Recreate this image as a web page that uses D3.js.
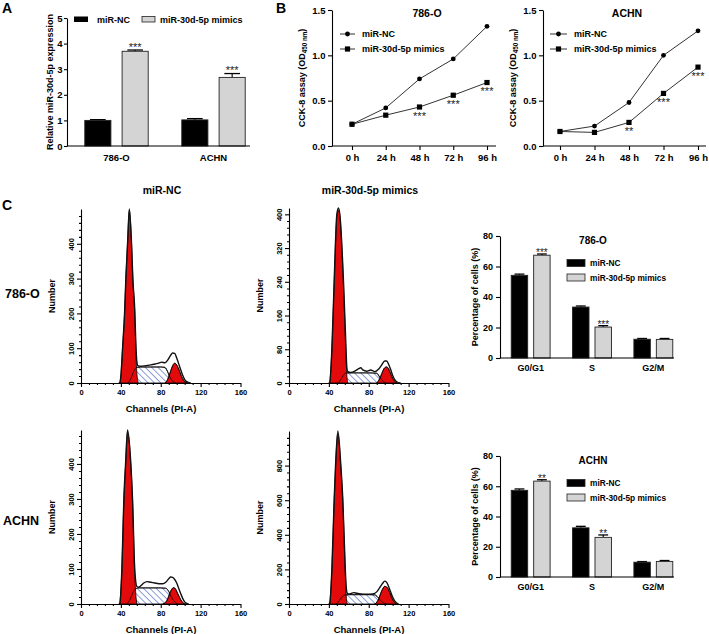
<!DOCTYPE html>
<html><head><meta charset="utf-8">
<script src="https://cdn.jsdelivr.net/npm/d3@7"></script>
<style>
body{margin:0;background:#fff}
svg{display:block}
text{font-family:"Liberation Sans",Arial,Helvetica,sans-serif}
</style>
</head><body>
<svg id="c" width="709" height="634"></svg>
<script>
// ---------------- DATA ----------------
const seriesNames = ["miR-NC", "miR-30d-5p mimics"];
// Panel A
const cellLines = ["786-O", "ACHN"];
const exprNC = [1.0, 1.02];
const exprNCErr = [0.03, 0.05];
const exprMimic = [3.7, 2.68];
const exprMimicErr = [0.05, 0.15];
const exprSig = ["***", "***"];
const exprTicks = [0, 1, 2, 3, 4, 5];
// Panel B
const hours = ["0 h", "24 h", "48 h", "72 h", "96 h"];
const cck786NC = [0.24, 0.42, 0.74, 0.96, 1.32];
const cck786Mimic = [0.24, 0.34, 0.43, 0.56, 0.70];
const cck786Sig = ["", "", "***", "***", "***"];
const cckAchnNC = [0.16, 0.22, 0.48, 1.00, 1.27];
const cckAchnMimic = [0.16, 0.15, 0.26, 0.58, 0.87];
const cckAchnSig = ["", "", "**", "***", "***"];
const cckTicks = [0, 0.5, 1.0, 1.5];
// Panel C bar charts
const phases = ["G0/G1", "S", "G2/M"];
const pct786NC = [54.2, 33.4, 12.3];
const pct786NCErr = [0.8, 0.7, 0.5];
const pct786Mimic = [67.4, 20.3, 12.2];
const pct786MimicErr = [0.8, 0.9, 0.6];
const pct786Sig = ["***", "***", ""];
const pctAchnNC = [57.3, 32.5, 9.8];
const pctAchnNCErr = [0.9, 1.0, 0.4];
const pctAchnMimic = [63.4, 26.2, 10.3];
const pctAchnMimicErr = [0.9, 1.6, 0.6];
const pctAchnSig = ["**", "**", ""];
const pctTicks = [0, 20, 40, 60, 80];
// Panel C histograms: [channel, count]
const channelTicks = [0, 40, 80, 120, 160];
const h786NC_total = [[38,0],[39,2],[40,20],[41.7,100],[43.7,200],[45,300],[46.7,400],[48.5,500],[50.7,400],[52,300],[54,205],[55,115],[56,62],[57,50],[60,48],[65,50],[70,52],[75,55],[78,57],[81,60],[84,58],[87,66],[90,80],[92,86],[94,85],[96,72],[98,55],[100,38],[102,22],[104,10],[106,4],[110,0]];
const h786NC_g1 = [[39,0],[40,20],[41.7,100],[43.7,200],[45,300],[46.7,400],[48.5,495],[50.7,400],[52,300],[54,195],[55,100],[56,30],[57.5,0]];
const h786NC_s = [[47,0],[50,12],[53,34],[56,45],[60,46],[70,46],[80,46],[84,45],[86,38],[89,18],[92,5],[95,0]];
const h786NC_g2 = [[84,0],[86,5],[88,18],[90,35],[92,50],[94,57],[96,52],[98,40],[100,25],[102,12],[104,4],[107,0]];
const h786Mi_total = [[40,0],[41,3],[43,80],[45.3,240],[48,400],[49.6,415],[51,400],[54.6,245],[57,95],[58,38],[59,27],[62,25],[66,28],[70,34],[72,36],[74,31],[78,28],[82,31],[86,27],[90,33],[93,43],[96,52],[98,52],[100,44],[102,32],[104,18],[106,8],[108,3],[112,0]];
const h786Mi_g1 = [[41,0],[43,78],[45.3,235],[48,395],[49.6,410],[51,395],[54.6,235],[57,75],[58,20],[59,0]];
const h786Mi_s = [[49,0],[52,8],[55,20],[58,24],[70,24],[80,24],[88,23],[91,14],[94,5],[97,0]];
const h786Mi_g2 = [[88,0],[90,6],[92,16],[94,28],[96,36],[98,38],[100,33],[102,22],[104,11],[106,4],[109,0]];
const hAchnNC_total = [[38,0],[39,3],[41,100],[43,300],[44.7,400],[46.7,497],[50,400],[51.7,300],[53.7,112],[55,62],[56,50],[58,48],[60,52],[63,60],[66,64],[70,62],[74,60],[78,58],[82,58],[85,62],[88,72],[90,77],[92,76],[94,70],[96,60],[98,45],[100,30],[102,16],[104,6],[106,2],[108,0]];
const hAchnNC_g1 = [[39,0],[41,98],[43,295],[44.7,395],[46.7,490],[50,395],[51.7,295],[53.7,100],[55,28],[56,0]];
const hAchnNC_s = [[46,0],[49,12],[52,32],[55,44],[58,46],[70,46],[80,46],[85,45],[88,36],[91,18],[94,6],[97,0]];
const hAchnNC_g2 = [[82,0],[85,5],[87,15],[89,30],[91,42],[93,47],[95,42],[97,30],[99,18],[101,8],[103,2],[105,0]];
const hAchnMi_total = [[40,0],[41,10],[43,200],[45.3,600],[46.7,800],[49,1000],[52,800],[54,600],[56.4,210],[57.5,92],[58.5,62],[60,58],[62,60],[65,66],[68,62],[72,58],[78,56],[84,58],[88,70],[91,95],[94,120],[96,132],[98,125],[100,100],[102,70],[104,40],[106,18],[108,6],[110,0]];
const hAchnMi_g1 = [[41,0],[43,195],[45.3,590],[46.7,790],[49,985],[52,790],[54,590],[56.4,195],[57.5,40],[58.5,0]];
const hAchnMi_s = [[47,0],[50,15],[53,40],[56,52],[60,54],[70,54],[80,54],[86,53],[89,40],[92,20],[95,6],[98,0]];
const hAchnMi_g2 = [[86,0],[88,10],[90,30],[92,62],[94,88],[96,102],[98,98],[100,80],[102,52],[104,25],[106,9],[108,0]];

// ---------------- HELPERS ----------------
const svg = d3.select("#c");
const GRAY = "#d4d4d4";
const RED = "#e20a0a";

const defs = svg.append("defs");
const pat = defs.append("pattern").attr("id","hatch").attr("patternUnits","userSpaceOnUse")
  .attr("width",4.5).attr("height",4.5).attr("patternTransform","rotate(-45)");
pat.append("rect").attr("width",4.5).attr("height",4.5).attr("fill","#fff");
pat.append("line").attr("x1",0).attr("y1",0).attr("x2",0).attr("y2",4.5).attr("stroke","#2e4fc0").attr("stroke-width",1.1);

function txt(g, x, y, s, size, o = {}) {
  const t = g.append("text").attr("x", x).attr("y", y).text(s)
    .attr("font-size", size).attr("font-weight", o.weight || "bold")
    .attr("text-anchor", o.anchor || "start").attr("fill", o.fill || "#000");
  if (o.rotate) t.attr("transform", `rotate(-90,${x},${y})`);
  return t;
}
function styleAxis(sel, size) {
  sel.attr("font-family", null).attr("font-size", null);
  sel.selectAll("path,line").attr("stroke", "#000").attr("stroke-width", 1.1);
  sel.selectAll("text").attr("font-size", size).attr("font-weight", "bold").attr("fill", "#000");
}

function groupedBars(g, cfg) {
  const x = d3.scaleBand().domain(cfg.cats).range(cfg.xRange);
  const xi = d3.scaleBand().domain(seriesNames).range([0, x.bandwidth()]).paddingInner(cfg.pi).paddingOuter(cfg.po);
  const y = d3.scaleLinear().domain(cfg.yDomain).range(cfg.yRange);
  const ya = g.append("g").attr("transform", `translate(${cfg.axisX},0)`)
    .call(d3.axisLeft(y).tickValues(cfg.ticks).tickSize(cfg.tickSize || 4).tickSizeOuter(0).tickPadding(cfg.tickPad || 3).tickFormat(d3.format("d")));
  styleAxis(ya, cfg.tickFont);
  const series = [
    { name: seriesNames[0], v: cfg.nc, e: cfg.ncErr, fill: "#000" },
    { name: seriesNames[1], v: cfg.mi, e: cfg.miErr, fill: GRAY, sig: cfg.sig }
  ];
  series.forEach(s => {
    cfg.cats.forEach((c, i) => {
      const bx = x(c) + xi(s.name), bw = xi.bandwidth(), cx = bx + bw / 2;
      const top = y(s.v[i] + s.e[i]);
      g.append("line").attr("x1", cx).attr("x2", cx).attr("y1", y(s.v[i])).attr("y2", top).attr("stroke", "#000").attr("stroke-width", 1.1);
      g.append("line").attr("x1", cx - bw * 0.3).attr("x2", cx + bw * 0.3).attr("y1", top).attr("y2", top).attr("stroke", "#000").attr("stroke-width", 1.3);
      g.append("rect").attr("x", bx).attr("y", y(s.v[i])).attr("width", bw).attr("height", y(0) - y(s.v[i]))
        .attr("fill", s.fill).attr("stroke", "#222").attr("stroke-width", 0.9);
      if (s.sig && s.sig[i]) txt(g, cx, top + cfg.starDy, s.sig[i], cfg.starFont, { anchor: "middle", weight: "normal", fill: "#222" });
    });
  });
  g.append("line").attr("x1", cfg.axisX).attr("x2", cfg.xAxisEnd).attr("y1", y(0)).attr("y2", y(0)).attr("stroke", "#000").attr("stroke-width", 1.2);
  cfg.cats.forEach(c => txt(g, x(c) + x.bandwidth() / 2, y(0) + cfg.catDy, c, cfg.catFont, { anchor: "middle" }));
  return { x, y };
}

function linePanel(g, cfg) {
  const x = d3.scalePoint().domain(hours).range(cfg.xRange);
  const y = d3.scaleLinear().domain([0, 1.5]).range([146, 10]);
  const ya = g.append("g").attr("transform", `translate(${cfg.axisX},0)`)
    .call(d3.axisLeft(y).tickValues(cckTicks).tickSize(4).tickSizeOuter(0).tickPadding(2.5).tickFormat(d3.format(".1f")));
  styleAxis(ya, 9.5);
  const xa = g.append("g").attr("transform", `translate(0,${y(0)})`)
    .call(d3.axisBottom(x).tickSize(4).tickSizeOuter(0).tickPadding(4));
  xa.select(".domain").remove();
  styleAxis(xa, 9.5);
  g.append("line").attr("x1", cfg.axisX).attr("x2", cfg.xEnd).attr("y1", y(0)).attr("y2", y(0)).attr("stroke", "#000").attr("stroke-width", 1.2);
  const line = d3.line().x((d, i) => x(hours[i])).y(d => y(d));
  g.append("path").attr("d", line(cfg.nc)).attr("fill", "none").attr("stroke", "#333").attr("stroke-width", 1);
  g.append("path").attr("d", line(cfg.mi)).attr("fill", "none").attr("stroke", "#333").attr("stroke-width", 1);
  cfg.nc.forEach((v, i) => g.append("circle").attr("cx", x(hours[i])).attr("cy", y(v)).attr("r", 2.4).attr("fill", "#000"));
  cfg.mi.forEach((v, i) => g.append("rect").attr("x", x(hours[i]) - 2.6).attr("y", y(v) - 2.6).attr("width", 5.2).attr("height", 5.2).attr("fill", "#000"));
  cfg.sig.forEach((s, i) => { if (s) txt(g, x(hours[i]), y(cfg.mi[i]) + 12.5, s, 11, { anchor: "middle", weight: "normal", fill: "#222" }); });
  txt(g, cfg.titleX, 17, cfg.title, 10.5, { anchor: "middle" });
  // legend
  [0, 1].forEach(k => {
    const ly = 34 + k * 15;
    g.append("line").attr("x1", cfg.legX).attr("x2", cfg.legX + cfg.legW).attr("y1", ly).attr("y2", ly).attr("stroke", "#333").attr("stroke-width", 1);
    if (k === 0) g.append("circle").attr("cx", cfg.legX + cfg.legW / 2).attr("cy", ly).attr("r", 2.4).attr("fill", "#000");
    else g.append("rect").attr("x", cfg.legX + cfg.legW / 2 - 2.6).attr("y", ly - 2.6).attr("width", 5.2).attr("height", 5.2).attr("fill", "#000");
    txt(g, cfg.legX + cfg.legW + 7, ly + 3.3, seriesNames[k], 9);
  });
  // y label with subscript
  const t = g.append("text").attr("transform", `translate(${cfg.labX},78) rotate(-90)`)
    .attr("text-anchor", "middle").attr("font-size", 9).attr("font-weight", "bold");
  t.append("tspan").text("CCK-8 assay (OD");
  t.append("tspan").text("450 nm").attr("font-size", 6.3).attr("dy", 2);
  t.append("tspan").text(")").attr("dy", -2);
}

function histPanel(g, cfg) {
  const x = d3.scaleLinear().domain([0, 160]).range([cfg.ox, cfg.ox + 159.5]);
  const y = d3.scaleLinear().domain([0, cfg.yMax]).range([cfg.oy, cfg.yTop]);
  const area = d3.area().x(d => x(d[0])).y0(cfg.oy).y1(d => y(d[1])).curve(d3.curveMonotoneX);
  const line = d3.line().x(d => x(d[0])).y(d => y(d[1])).curve(d3.curveMonotoneX);
  g.append("path").attr("d", area(cfg.s)).attr("fill", "url(#hatch)").attr("stroke", "#000").attr("stroke-width", 0.8);
  g.append("path").attr("d", area(cfg.g1)).attr("fill", RED).attr("stroke", "#000").attr("stroke-width", 0.8);
  g.append("path").attr("d", area(cfg.g2)).attr("fill", RED).attr("stroke", "#000").attr("stroke-width", 0.8);
  g.append("path").attr("d", line(cfg.s)).attr("fill", "none").attr("stroke", "#000").attr("stroke-width", 0.7);
  g.append("path").attr("d", line(cfg.g2)).attr("fill", "none").attr("stroke", "#000").attr("stroke-width", 0.7);
  g.append("path").attr("d", line(cfg.total)).attr("fill", "none").attr("stroke", "#111").attr("stroke-width", 1.4);
  // axes
  const minorY = d3.range(0, cfg.yMax, cfg.minor).filter(v => cfg.yTicks.indexOf(v) < 0);
  const yaMin = g.append("g").attr("transform", `translate(${cfg.ox},0)`)
    .call(d3.axisLeft(y).tickValues(minorY).tickSize(2).tickSizeOuter(0).tickFormat(""));
  yaMin.select(".domain").remove();
  const ya = g.append("g").attr("transform", `translate(${cfg.ox},0)`)
    .call(d3.axisLeft(y).tickValues(cfg.yTicks).tickSize(4).tickSizeOuter(0));
  styleAxis(yaMin, 7.5); styleAxis(ya, 7.5);
  ya.selectAll("text").attr("x", 0).attr("y", -7).attr("dy", 0).attr("text-anchor", "middle").attr("transform", "rotate(-90)");
  const minorX = d3.range(0, 160, 8).filter(v => channelTicks.indexOf(v) < 0);
  const xaMin = g.append("g").attr("transform", `translate(0,${cfg.oy})`)
    .call(d3.axisBottom(x).tickValues(minorX).tickSize(2).tickSizeOuter(0).tickFormat(""));
  xaMin.select(".domain").remove();
  const xa = g.append("g").attr("transform", `translate(0,${cfg.oy})`)
    .call(d3.axisBottom(x).tickValues(channelTicks).tickSize(4).tickSizeOuter(0).tickPadding(3));
  styleAxis(xaMin, 7.5); styleAxis(xa, 7.5);
  txt(g, cfg.ox + 80, cfg.oy + 28.5, "Channels (PI-A)", 9.5, { anchor: "middle" });
  txt(g, cfg.ox - 26, (cfg.oy + cfg.yTop) / 2, "Number", 9, { anchor: "middle", rotate: true });
}

function pctPanel(g, cfg) {
  groupedBars(g, {
    cats: phases, xRange: [500, 684], pi: 0.267, po: 0.5,
    yDomain: [0, 80], yRange: [cfg.y0, cfg.y80], axisX: 500, xAxisEnd: 674,
    ticks: pctTicks, tickFont: 9, nc: cfg.nc, ncErr: cfg.ncErr, mi: cfg.mi, miErr: cfg.miErr,
    sig: cfg.sig, starFont: 10, starDy: 2, catDy: 12.5, catFont: 9
  });
  txt(g, 593, cfg.y80 + 8, cfg.title, 10, { anchor: "middle" });
  [0, 1].forEach(k => {
    const ly = cfg.y80 + 27 + k * 14.5;
    g.append("rect").attr("x", 567).attr("y", ly - 3.5).attr("width", 18).attr("height", 7)
      .attr("fill", k ? GRAY : "#000").attr("stroke", "#222").attr("stroke-width", 0.8);
    txt(g, 590, ly + 3, seriesNames[k], 8.3);
  });
  txt(g, 478, (cfg.y0 + cfg.y80) / 2, "Percentage of cells (%)", 9, { anchor: "middle", rotate: true });
}

// ---------------- PANEL A ----------------
const gA = svg.append("g");
txt(gA, 2, 13, "A", 14);
groupedBars(gA, {
  cats: cellLines, xRange: [68, 262], pi: 0.3, po: 0.45,
  yDomain: [0, 5], yRange: [146, 18], axisX: 67, xAxisEnd: 250,
  ticks: exprTicks, tickFont: 9.5, tickSize: 3, tickPad: 1.5,
  nc: exprNC, ncErr: exprNCErr, mi: exprMimic, miErr: exprMimicErr,
  sig: exprSig, starFont: 11, starDy: 0.5, catDy: 14.5, catFont: 9.5
});
gA.append("rect").attr("x", 74).attr("y", 16.5).attr("width", 14).attr("height", 5.5).attr("fill", "#000");
txt(gA, 97, 22.5, seriesNames[0], 9);
gA.append("rect").attr("x", 142).attr("y", 16.5).attr("width", 13).attr("height", 5.5).attr("fill", GRAY).attr("stroke", "#222").attr("stroke-width", 0.8);
txt(gA, 160, 22.5, seriesNames[1], 9);
txt(gA, 53, 82, "Relative miR-30d-5p expression", 9, { anchor: "middle", rotate: true });

// ---------------- PANEL B ----------------
const gB = svg.append("g");
txt(gB, 276, 13, "B", 14);
linePanel(gB, { xRange: [352, 487], axisX: 332, xEnd: 496, nc: cck786NC, mi: cck786Mimic, sig: cck786Sig,
  title: "786-O", titleX: 427, legX: 340, legW: 15, labX: 305 });
linePanel(gB, { xRange: [560, 698], axisX: 543, xEnd: 706, nc: cckAchnNC, mi: cckAchnMimic, sig: cckAchnSig,
  title: "ACHN", titleX: 627, legX: 550, legW: 17, labX: 516 });

// ---------------- PANEL C ----------------
const gC = svg.append("g");
txt(gC, 2, 210, "C", 14);
txt(gC, 162, 194, "miR-NC", 10.5, { anchor: "middle" });
txt(gC, 370, 194, "miR-30d-5p mimics", 10.5, { anchor: "middle" });
txt(gC, 5, 298, "786-O", 12.5);
txt(gC, 3, 525, "ACHN", 12.5);
histPanel(gC, { ox: 81, oy: 383, yTop: 209, yMax: 500, yTicks: [0,100,200,300,400], minor: 20,
  total: h786NC_total, g1: h786NC_g1, s: h786NC_s, g2: h786NC_g2 });
histPanel(gC, { ox: 289, oy: 383, yTop: 208, yMax: 415, yTicks: [0,80,160,240,320,400], minor: 16,
  total: h786Mi_total, g1: h786Mi_g1, s: h786Mi_s, g2: h786Mi_g2 });
histPanel(gC, { ox: 81, oy: 604, yTop: 430, yMax: 497, yTicks: [0,100,200,300,400], minor: 20,
  total: hAchnNC_total, g1: hAchnNC_g1, s: hAchnNC_s, g2: hAchnNC_g2 });
histPanel(gC, { ox: 289, oy: 604, yTop: 431, yMax: 1000, yTicks: [0,200,400,600,800], minor: 40,
  total: hAchnMi_total, g1: hAchnMi_g1, s: hAchnMi_s, g2: hAchnMi_g2 });
pctPanel(gC, { y0: 358, y80: 236, nc: pct786NC, ncErr: pct786NCErr, mi: pct786Mimic, miErr: pct786MimicErr, sig: pct786Sig, title: "786-O" });
pctPanel(gC, { y0: 577, y80: 456, nc: pctAchnNC, ncErr: pctAchnNCErr, mi: pctAchnMimic, miErr: pctAchnMimicErr, sig: pctAchnSig, title: "ACHN" });
</script>
</body></html>
